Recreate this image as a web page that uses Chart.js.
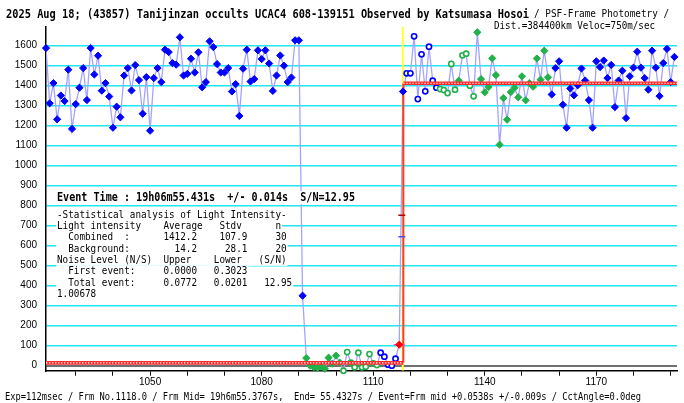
<!DOCTYPE html>
<html><head><meta charset="utf-8">
<script src="https://cdn.jsdelivr.net/npm/chart.js@4"></script>
<style>html,body{margin:0;padding:0;background:#fff;}#wrap{width:684px;height:403px;position:relative}</style>
</head><body><div id="wrap"><canvas id="c" width="684" height="403"></canvas></div>
<script>
// ---- data ----
const frames = [
 1022,1023,1024,1025,1026,1027,1028,1029,1030,1031,
 1032,1033,1034,1035,1036,1037,1038,1039,1040,1041,
 1042,1043,1044,1045,1046,1047,1048,1049,1050,1051,
 1052,1053,1054,1055,1056,1057,1058,1059,1060,1061,
 1062,1063,1064,1065,1066,1067,1068,1069,1070,1071,
 1072,1073,1074,1075,1076,1077,1078,1079,1080,1081,
 1082,1083,1084,1085,1086,1087,1088,1089,1090,1091,
 1092,1093,1094,1095,1096,1097,1098,1099,1100,1101,
 1102,1103,1104,1105,1106,1107,1108,1109,1110,1111,
 1112,1113,1114,1115,1116,1117,1118,1119,1120,1121,
 1122,1123,1124,1125,1126,1127,1128,1129,1130,1131,
 1132,1133,1134,1135,1136,1137,1138,1139,1140,1141,
 1142,1143,1144,1145,1146,1147,1148,1149,1150,1151,
 1152,1153,1154,1155,1156,1157,1158,1159,1160,1161,
 1162,1163,1164,1165,1166,1167,1168,1169,1170,1171,
 1172,1173,1174,1175,1176,1177,1178,1179,1180,1181,
 1182,1183,1184,1185,1186,1187,1188,1189,1190,1191
];
const intensity = [
 1588,1312,1413,1232,1351,1323,1480,1184,1308,1390,
 1488,1328,1588,1456,1550,1375,1413,1346,1190,1295,
 1242,1451,1488,1376,1503,1428,1260,1443,1175,1438,
 1488,1418,1580,1568,1513,1505,1642,1451,1459,1535,
 1466,1567,1392,1418,1622,1593,1508,1466,1466,1488,
 1371,1408,1249,1485,1580,1421,1433,1577,1533,1577,
 1511,1374,1451,1551,1500,1418,1441,1627,1627,350,
 38,0,-8,-12,-5,-15,40,10,50,15,
 -25,68,15,-8,65,-8,-5,58,12,3,
 65,45,5,0,35,105,1371,1462,1462,1647,
 1333,1557,1372,1595,1425,1390,1383,1378,1363,1509,
 1380,1425,1552,1560,1400,1347,1667,1433,1367,1393,
 1537,1453,1105,1338,1230,1368,1390,1342,1447,1327,
 1413,1395,1536,1430,1575,1442,1356,1488,1522,1305,
 1190,1386,1352,1402,1486,1426,1328,1190,1522,1493,
 1526,1438,1504,1293,1426,1475,1238,1447,1490,1570,
 1490,1438,1380,1575,1490,1348,1513,1584,1418,1544
];
// point classes in runs: B blue filled, G green filled, g green open, b blue open, R event frame
const kindRuns = [['B',70],['G',10],['g',10],['b',5],['R',1],['B',1],['b',9],['g',5],['G',1],['g',4],['G',20],['B',34]];
const backgroundLevel = 14.2;
const combinedLevel = 1412.2;
const eventFrame = 1118.1;
const yellowFrame = 1117.95;
const errorTicks = [[1117.7, 752], [1117.7, 645]];
const xMin = 1022, xMax = 1191.7, yMin = -25, yMax = 1693.5;
const xTickMarks = [1030,1040,1050,1060,1070,1080,1090,1100,1110,1120,1130,1140,1150,1160,1170,1180,1190];
const xTickLabels = [1050,1080,1110,1140,1170];
const yTickValues = [0,100,200,300,400,500,600,700,800,900,1000,1100,1200,1300,1400,1500,1600];

const titleBold = "2025 Aug 18; (43857) Tanijinzan occults UCAC4 608-139151 Observed by Katsumasa Hosoi";
const titleNormal = "/ PSF-Frame Photometry /";
const titleLine2 = "Dist.=384400km Veloc=750m/sec";
const eventLine = "Event Time : 19h06m55.431s  +/- 0.014s  S/N=12.95";
const statsLines = [
 "-Statistical analysis of Light Intensity-",
 "Light intensity    Average   Stdv      n",
 "  Combined  :      1412.2    107.9     30",
 "  Background:        14.2     28.1     20",
 "Noise Level (N/S)  Upper    Lower   (S/N)",
 "  First event:     0.0000   0.3023",
 "  Total event:     0.0772   0.0201   12.95",
 "1.00678"
];
const footer = "Exp=112msec / Frm No.1118.0 / Frm Mid= 19h6m55.3767s,  End= 55.4327s / Event=Frm mid +0.0538s +/-0.009s / CctAngle=0.0deg";

// ---- build ----
const pts = frames.map((f,i)=>({x:f,y:intensity[i]}));
const kinds = [];
kindRuns.forEach(([k,n])=>{for(let j=0;j<n;j++)kinds.push(k);});
const BLUE='#0000ff', GREEN='#22b04a';
const st = {
 B:{s:'rectRot',r:3.6,bg:BLUE,bd:BLUE,w:1},
 G:{s:'rectRot',r:3.6,bg:GREEN,bd:GREEN,w:1},
 g:{s:'circle',r:2.6,bg:'#ffffff',bd:GREEN,w:1.6},
 b:{s:'circle',r:2.6,bg:'#ffffff',bd:BLUE,w:1.6},
 R:{s:'rectRot',r:3.6,bg:'#ff0000',bd:'#ff0000',w:1}
};
const eventIdx = kinds.indexOf('R');
const stepData = [{x:xMin,y:backgroundLevel},{x:eventFrame,y:backgroundLevel},{x:eventFrame,y:null},{x:eventFrame,y:combinedLevel},{x:xMax,y:combinedLevel}];

function drawFit(ctx, s, x, yc, font, w, boxH){
  ctx.save();
  ctx.font = font;
  const m = ctx.measureText(s).width;
  if(boxH){ ctx.fillStyle='#fff'; ctx.fillRect(x-1, yc-boxH/2, w+2, boxH); }
  ctx.translate(x, yc); ctx.scale(w/m, 1);
  ctx.fillStyle='#000'; ctx.textBaseline='middle'; ctx.textAlign='left';
  ctx.fillText(s, 0, 0);
  ctx.restore();
}
const MONO = "'DejaVu Sans Mono', 'Liberation Mono', monospace";
const textPlugin = {
  id:'texts',
  afterDraw(chart){
    const ctx = chart.ctx;
    drawFit(ctx, titleBold, 6, 14.5, "bold 12px "+MONO, 523, 0);
    drawFit(ctx, titleNormal, 534, 14.5, "11px "+MONO, 135, 0);
    drawFit(ctx, titleLine2, 494, 26, "11px "+MONO, 161, 0);
    drawFit(ctx, eventLine, 57, 197.7, "bold 12px "+MONO, 298, 13);
    statsLines.forEach((s,i)=>{
      drawFit(ctx, s, 57, 215 + i*11.3, "11px "+MONO, s.length*5.6, 11.3);
    });
    drawFit(ctx, footer, 5, 397, "11px "+MONO, 636, 0);
  }
};

new Chart(document.getElementById('c'), {
  type:'scatter',
  data:{datasets:[
    {data:[{x:yellowFrame,y:yMin},{x:yellowFrame,y:yMax}], showLine:true, borderColor:'#ffff33', borderWidth:2, pointRadius:0, order:10},
    {data:pts, showLine:true, borderColor:'#a4a4ff', borderWidth:1.3, pointRadius:0, order:9},
    {data:[{x:eventFrame,y:backgroundLevel},{x:eventFrame,y:combinedLevel}], showLine:true, borderColor:'#ff3a2a', borderWidth:2, pointRadius:0, order:8},
    {data:[pts[eventIdx]], pointStyle:'line', pointRadius:5.5, pointBorderColor:'#ff40ff', pointBorderWidth:1.5, order:7.5, clip:false},
    {data:pts, showLine:false, order:7, clip:false,
      pointStyle: kinds.map(k=>st[k].s), pointRadius: kinds.map(k=>st[k].r),
      pointBackgroundColor: kinds.map(k=>st[k].bg), pointBorderColor: kinds.map(k=>st[k].bd),
      pointBorderWidth: kinds.map(k=>st[k].w)},
    {data:stepData, showLine:true, borderColor:'#ff2a2a', borderWidth:3.6, pointRadius:0, spanGaps:false, order:6},
    {data:stepData, showLine:true, borderColor:'#ffffff', borderWidth:1.2, borderDash:[1.4,1.6], pointRadius:0, spanGaps:false, order:5},
    {data:[{x:errorTicks[0][0],y:errorTicks[0][1]}], pointStyle:'line', pointRadius:3.5, pointBorderColor:'#b00000', pointBorderWidth:1.5, order:2},
    {data:[{x:errorTicks[1][0],y:errorTicks[1][1]}], pointStyle:'line', pointRadius:3.5, pointBorderColor:'#5050e0', pointBorderWidth:1.5, order:2}
  ]},
  options:{
    responsive:false, animation:false,
    layout:{padding:{top:27,left:0,right:0.5,bottom:7.3}},
    plugins:{legend:{display:false}, tooltip:{enabled:false}, title:{display:false}},
    scales:{
      x:{type:'linear', min:xMin, max:xMax,
        afterBuildTicks:s=>{ s.ticks = xTickMarks.map(v=>({value:v})); },
        afterFit:s=>{ s.height = 25; },
        ticks:{autoSkip:false, maxRotation:0, padding:1, color:'#000', font:{family:'Liberation Sans', size:10},
          callback:v=> xTickLabels.includes(v) ? String(v) : ''},
        grid:{drawOnChartArea:false, drawTicks:true, tickLength:5, tickColor:'#000', tickWidth:1},
        border:{color:'#000', width:1.5}
      },
      y:{type:'linear', min:yMin, max:yMax,
        afterBuildTicks:s=>{ s.ticks = yTickValues.map(v=>({value:v})); },
        afterFit:s=>{ s.width = 46; },
        ticks:{padding:9, color:'#000', font:{family:'Liberation Sans', size:10}, callback:v=>String(v)},
        grid:{drawTicks:false,
          color:c=> (c.tick && c.tick.value===0) ? '#707070' : '#22e6f2',
          lineWidth:c=> (c.tick && c.tick.value===0) ? 2 : 1.5},
        border:{color:'#000', width:1.5}
      }
    }
  },
  plugins:[textPlugin]
});
</script>
</body></html>
